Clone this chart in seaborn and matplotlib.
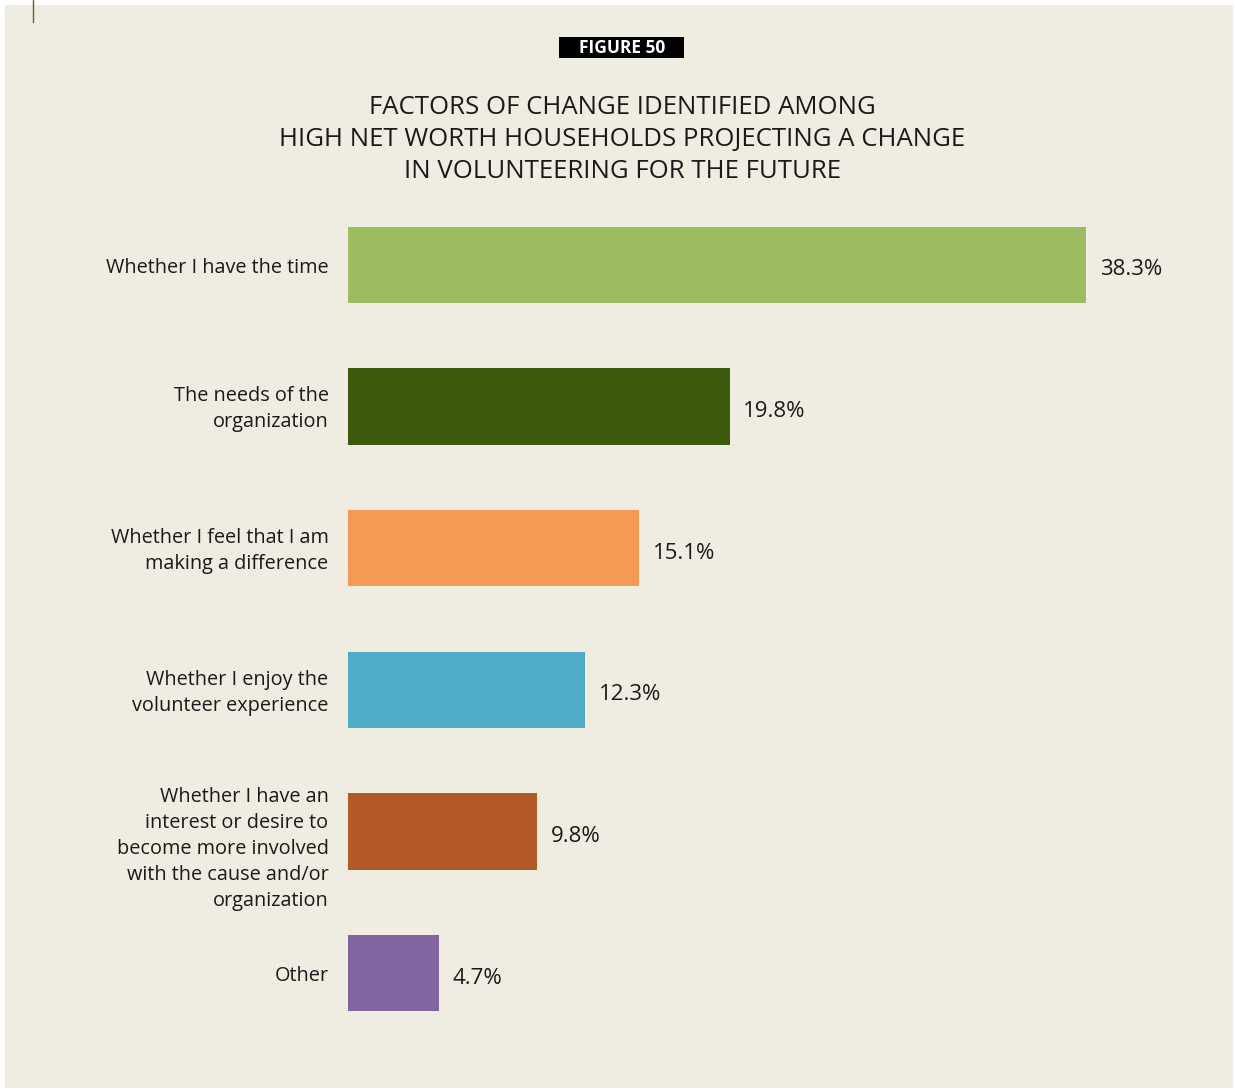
import matplotlib
matplotlib.use("Agg")
import matplotlib.pyplot as plt
import seaborn as sns
import pandas as pd
from matplotlib.patches import Rectangle
from matplotlib.lines import Line2D

categories = [
    "Whether I have the time",
    "The needs of the\norganization",
    "Whether I feel that I am\nmaking a difference",
    "Whether I enjoy the\nvolunteer experience",
    "Whether I have an\ninterest or desire to\nbecome more involved\nwith the cause and/or\norganization",
    "Other",
]
values = [38.3, 19.8, 15.1, 12.3, 9.8, 4.7]
value_labels = ["38.3%", "19.8%", "15.1%", "12.3%", "9.8%", "4.7%"]
colors = ["#9dbb61", "#3d5a0c", "#f59a52", "#50acc6", "#b35928", "#8165a0"]
badge_text = "FIGURE 50"
title_text = ("FACTORS OF CHANGE IDENTIFIED AMONG\n"
              "HIGH NET WORTH HOUSEHOLDS PROJECTING A CHANGE\n"
              "IN VOLUNTEERING FOR THE FUTURE")

sns.set_theme(style="white")
plt.rcParams["font.family"] = ["Open Sans", "DejaVu Sans"]

BG = "#efece1"
TXT = "#1a1a1a"
W, H = 1235, 1091
fig = plt.figure(figsize=(W / 100, H / 100), dpi=100)
fig.patch.set_facecolor("white")

# beige panel
fig.patches.append(Rectangle((5 / W, 1 - 1088 / H), (1233 - 5) / W, (1088 - 5) / H,
                             transform=fig.transFigure, facecolor=BG,
                             edgecolor="none", zorder=-5))
# small vertical rule at top-left
fig.lines.append(Line2D([33 / W, 33 / W], [1, 1 - 22 / H], transform=fig.transFigure,
                        color="#5a6a1a", lw=1.0, zorder=-4))

# axes: x from 348 px, 19.27 px per %
left_px = 348
px_per = 738 / 38.3
xmax = 45
ax_w = xmax * px_per
top_px, bot_px = 194, 1044
ax = fig.add_axes([left_px / W, 1 - bot_px / H, ax_w / W, (bot_px - top_px) / H])
ax.set_facecolor("none")
ax.set_zorder(2)

bar_w = 0.537
df = pd.DataFrame({"cat": categories, "val": values})
sns.barplot(data=df, x="val", y="cat", hue="cat", palette=colors, legend=False,
            width=bar_w, saturation=1, ax=ax, orient="h", linewidth=0,
            edgecolor="none")
ax.set_xlim(0, xmax)
ax.set_ylim(5.5, -0.5)
ax.set_xlabel("")
ax.set_ylabel("")
ax.set_xticks([])
ax.set_yticks([])
for s in ax.spines.values():
    s.set_visible(False)

# category labels (right-aligned left of bars)
for i, cat in enumerate(categories):
    n_lines = cat.count("\n") + 1
    if n_lines > 3:
        ax.annotate(cat, xy=(0, i - bar_w / 2), xytext=(-14, 5),
                    textcoords="offset points", ha="right", va="top",
                    fontsize=14.3, color=TXT, linespacing=1.41,
                    annotation_clip=False)
    else:
        ax.annotate(cat, xy=(0, i), xytext=(-14, -2), textcoords="offset points",
                    ha="right", va="center", fontsize=14.3, color=TXT,
                    linespacing=1.41, annotation_clip=False)

for i, (v, lab) in enumerate(zip(values, value_labels)):
    ax.annotate(lab, xy=(v, i), xytext=(10, -3.5), textcoords="offset points",
                ha="left", va="center", fontsize=16, color=TXT)

# badge
fig.patches.append(Rectangle((559 / W, 1 - 58 / H), 125 / W, 21 / H,
                             transform=fig.transFigure, facecolor="black",
                             edgecolor="none", zorder=-3))
fig.text(622 / W, 1 - 48 / H, badge_text, ha="center", va="center", fontsize=12.5,
         fontweight="bold", color="white")

# title
fig.text(622 / W, 1 - 139.5 / H, title_text, ha="center", va="center",
         fontsize=18.5, color=TXT, linespacing=1.36)

fig.savefig("out.png", dpi=100, facecolor=fig.get_facecolor())
